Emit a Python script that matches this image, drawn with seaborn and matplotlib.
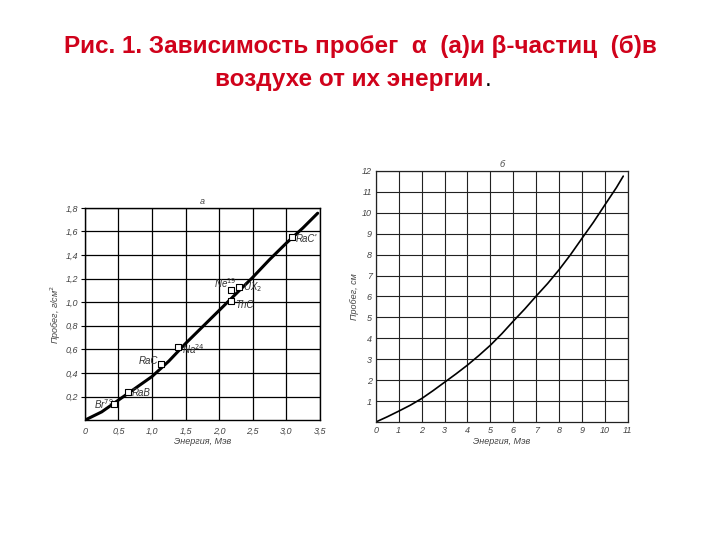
import matplotlib
matplotlib.use('Agg')
import matplotlib.pyplot as plt
import pandas as pd
import seaborn as sns

sns.set_theme(style='white')
plt.rcParams['font.family'] = ['Liberation Sans', 'DejaVu Sans']

# alpha particles (a): energy, MeV -> range
alpha_e = [0.0, 0.25, 0.5, 0.75, 1.0, 1.25, 1.5, 1.75, 2.0, 2.25, 2.5, 2.75, 3.0, 3.25, 3.47]
alpha_r = [0.0, 0.07, 0.17, 0.27, 0.37, 0.50, 0.65, 0.79, 0.93, 1.07, 1.21, 1.36, 1.50, 1.63, 1.755]

# marked isotopes on curve (a)
iso_names = ['Br$^{79}$', 'RaB', 'RaC', 'Na$^{24}$', 'Ne$^{19}$', 'UX$_2$', 'ThC', "RaC'"]
iso_e = [0.43, 0.64, 1.13, 1.39, 2.18, 2.30, 2.18, 3.09]
iso_r = [0.14, 0.236, 0.48, 0.62, 1.10, 1.125, 1.01, 1.55]

# beta particles (б): energy, MeV -> range, cm
beta_e = [0, 0.5, 1, 1.5, 2, 2.5, 3, 3.5, 4, 4.5, 5, 5.5, 6, 6.5, 7, 7.5, 8, 8.5,
          9, 9.5, 10, 10.5, 10.8]
beta_r = [0, 0.25, 0.52, 0.8, 1.12, 1.5, 1.9, 2.3, 2.72, 3.18, 3.67, 4.22, 4.82, 5.4,
          6.02, 6.62, 7.28, 8.0, 8.78, 9.55, 10.38, 11.2, 11.75]

alpha_df = pd.DataFrame({'E': alpha_e, 'R': alpha_r})
beta_df = pd.DataFrame({'E': beta_e, 'R': beta_r})

fig = plt.figure(figsize=(7.2, 5.4), dpi=100)
fig.text(0.5, 0.913, 'Рис. 1. Зависимость пробег  α  (а)и β-частиц  (б)в',
         ha='center', va='center', color='#d0021b', fontsize=17.5, fontweight='bold')
fig.text(0.672, 0.852, 'воздухе от их энергии', ha='right', va='center',
         color='#d0021b', fontsize=17.5, fontweight='bold')
fig.text(0.673, 0.852, '.', ha='left', va='center', color='black', fontsize=17.5)

txt = dict(color='#444444', fontstyle='italic', fontsize=6.5)

# --- (a)
ax1 = fig.add_axes([0.118, 0.222, 0.326, 0.393])
sns.lineplot(data=alpha_df, x='E', y='R', ax=ax1, color='black', lw=2.2)
ax1.scatter(iso_e, iso_r, marker='s', s=14, facecolor='white', edgecolor='black',
            lw=0.8, zorder=5)
offsets = [(-0.3, 0.0), (0.05, -0.01), (-0.33, 0.02), (0.05, -0.02),
           (-0.25, 0.06), (0.06, 0.0), (0.06, -0.03), (0.05, -0.01)]
for n, e, r, (dx, dy) in zip(iso_names, iso_e, iso_r, offsets):
    ax1.text(e + dx, r + dy, n, color='#333333', fontstyle='italic', fontsize=7,
             va='center')
ax1.set_xlim(0, 3.5)
ax1.set_ylim(0, 1.8)
ax1.set_xticks([0, 0.5, 1.0, 1.5, 2.0, 2.5, 3.0, 3.5])
ax1.set_xticklabels(['0', '0,5', '1,0', '1,5', '2,0', '2,5', '3,0', '3,5'], **txt)
ax1.set_yticks([0.2, 0.4, 0.6, 0.8, 1.0, 1.2, 1.4, 1.6, 1.8])
ax1.set_yticklabels(['0,2', '0,4', '0,6', '0,8', '1,0', '1,2', '1,4', '1,6', '1,8'], **txt)
ax1.grid(True, color='black', lw=0.9)
ax1.set_xlabel('Энергия, Мэв', labelpad=1, **txt)
ax1.set_ylabel('Пробег, г/см$^2$', labelpad=2, **txt)
ax1.set_title('а', pad=3, **txt)
ax1.tick_params(length=3, width=0.8, color='black', pad=2, left=True, bottom=False)
for s in ax1.spines.values():
    s.set_color('black')
    s.set_linewidth(1.0)

# --- (б)
ax2 = fig.add_axes([0.522, 0.2185, 0.35, 0.465])
sns.lineplot(data=beta_df, x='E', y='R', ax=ax2, color='black', lw=1.2)
ax2.set_xlim(0, 11)
ax2.set_ylim(0, 12)
ax2.set_xticks(range(0, 12))
ax2.set_xticklabels([str(i) for i in range(0, 12)], **txt)
ax2.set_yticks(range(1, 13))
ax2.set_yticklabels([str(i) for i in range(1, 13)], **txt)
ax2.grid(True, color='#222222', lw=0.8)
ax2.set_xlabel('Энергия, Мэв', labelpad=1, **txt)
ax2.set_ylabel('Пробег, см', labelpad=2, **txt)
ax2.set_title('б', pad=3, **txt)
ax2.tick_params(length=0, pad=3)
for s in ax2.spines.values():
    s.set_color('#222222')
    s.set_linewidth(0.9)

fig.savefig('out.png', dpi=100)
